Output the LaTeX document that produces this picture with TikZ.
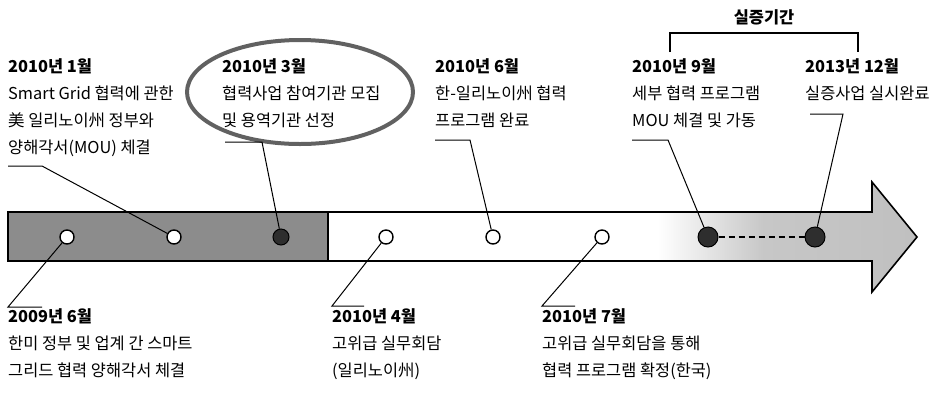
\documentclass[tikz,border=0pt]{standalone}
\usepackage{fontspec}
\setmainfont{Noto Sans CJK KR}
\usetikzlibrary{calc}
\pgfdeclarehorizontalshading{arrowshade}{100bp}{color(0bp)=(white); color(53bp)=(white); color(62bp)=(black!22); color(100bp)=(black!30)}
\begin{document}
\begin{tikzpicture}[x=1pt,y=-1pt,
  dot/.style={circle,draw=black,line width=1.4pt,fill=white,minimum size=14pt,inner sep=0pt},
  darkdot/.style={circle,draw=black,line width=1pt,fill=black!82,minimum size=20pt,inner sep=0pt},
  lead/.style={line width=1pt,black},
  txt/.style={anchor=north west,inner sep=0pt,align=left,font=\fontsize{16.4}{27}\selectfont},
]
\useasboundingbox (0,0) rectangle (949,392);
% arrow band
\path[fill=black!45,draw=black,line width=1.6pt] (8,212) rectangle (328,261);
\path[shading=arrowshade,draw=black,line width=1.6pt] (328,212) -- (872,212) -- (872,182) -- (917,237) -- (872,292) -- (872,261) -- (328,261) -- cycle;
\draw[black,line width=1.6pt] (328,212) -- (328,261);
% ellipse highlight
\draw[black!62,line width=4pt] (300,92) ellipse [x radius=113, y radius=52];
% dots
\node[dot] (c1) at (67,237) {};
\node[dot] (c2) at (174,237) {};
\node[darkdot,minimum size=16pt] (c3) at (281,237) {};
\node[dot] (c4) at (386,237) {};
\node[dot] (c5) at (493,237) {};
\node[dot] (c6) at (602,237) {};
\node[darkdot] (c7) at (708,237) {};
\node[darkdot] (c8) at (815,237) {};
\draw[line width=1.3pt,dash pattern=on 6pt off 4pt] (c7) -- (c8);
% top texts
\node[txt] (t1) at (8,58) {\textbf{2010년 1월}\\Smart Grid 협력에 관한\\美 일리노이州 정부와\\양해각서(MOU) 체결};
\node[txt] (t3) at (222,58) {\textbf{2010년 3월}\\협력사업 참여기관 모집\\및 용역기관 선정};
\node[txt] (t6) at (435,58) {\textbf{2010년 6월}\\한-일리노이州 협력\\프로그램 완료};
\node[txt] (t9) at (632,58) {\textbf{2010년 9월}\\세부 협력 프로그램\\MOU 체결 및 가동};
\node[txt] (t12) at (805,58) {\textbf{2013년 12월}\\실증사업 실시완료};
% bottom texts
\node[txt] (b1) at (8,308) {\textbf{2009년 6월}\\한미 정부 및 업계 간 스마트\\그리드 협력 양해각서 체결};
\node[txt] (b4) at (332,308) {\textbf{2010년 4월}\\고위급 실무회담\\(일리노이州)};
\node[txt] (b7) at (542,308) {\textbf{2010년 7월}\\고위급 실무회담을 통해\\협력 프로그램 확정(한국)};
% bracket
\node[font=\fontsize{16.4}{18}\selectfont\bfseries,inner sep=0pt] (per) at (764,17) {실증기간};
\draw[line width=1.3pt] (670,52) -- (670,33) -- (858,33) -- (858,52);
% leaders
\coordinate (u1a) at (8,166); \coordinate (u1b) at (42,166);
\coordinate (u3a) at (225,142); \coordinate (u3b) at (262,142);
\coordinate (u6a) at (435,140); \coordinate (u6b) at (470,140);
\coordinate (u9a) at (632,140); \coordinate (u9b) at (668,140);
\coordinate (u12a) at (810,114); \coordinate (u12b) at (843,114);
\coordinate (l1a) at (42,307); \coordinate (l1b) at (8,307);
\coordinate (l4a) at (364,306); \coordinate (l4b) at (332,306);
\coordinate (l7a) at (575,306); \coordinate (l7b) at (542,306);
\draw[lead] (u1a) -- (u1b) -- (c2);
\draw[lead] (u3a) -- (u3b) -- (c3);
\draw[lead] (u6a) -- (u6b) -- (c5);
\draw[lead] (u9a) -- (u9b) -- (c7);
\draw[lead] (u12a) -- (u12b) -- (c8);
\draw[lead] (l1a) -- (l1b) -- (c1);
\draw[lead] (l4a) -- (l4b) -- (c4);
\draw[lead] (l7a) -- (l7b) -- (c6);
\end{tikzpicture}
\end{document}
